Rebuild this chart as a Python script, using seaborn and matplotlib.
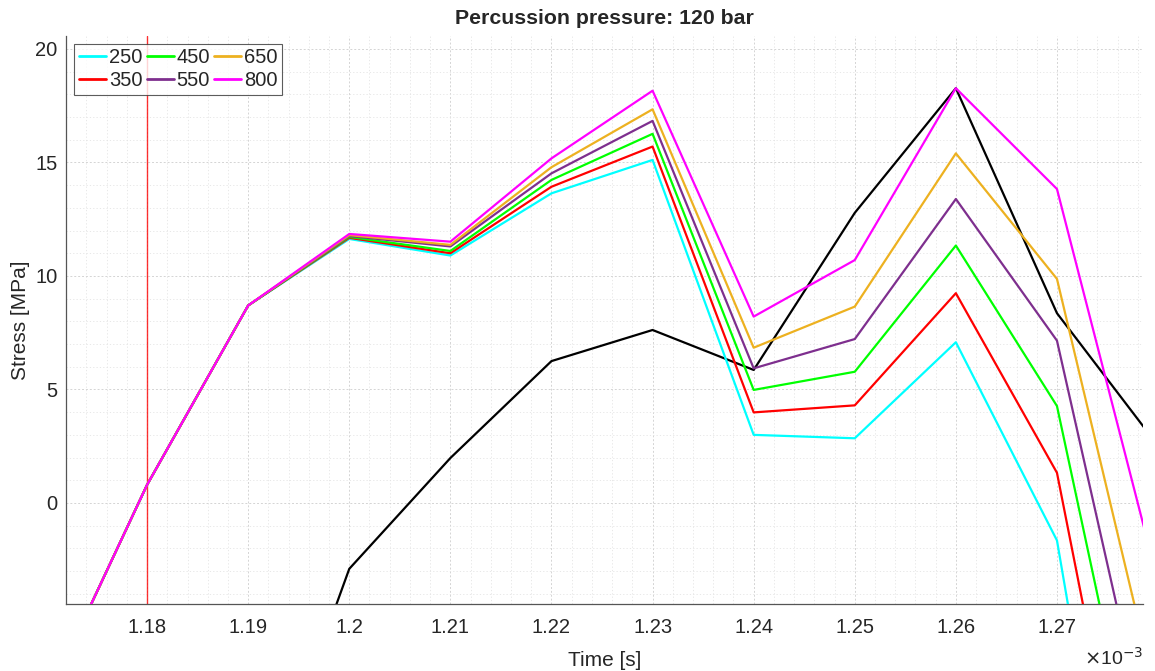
import numpy as np
import pandas as pd
import matplotlib
matplotlib.use("Agg")
import matplotlib.pyplot as plt
import seaborn as sns
from matplotlib.ticker import MultipleLocator, FuncFormatter

# ---- data (time in ms*1e-3 -> seconds) ----
time_ms = [1.17, 1.18, 1.19, 1.20, 1.21, 1.22, 1.23, 1.24, 1.25, 1.26, 1.27, 1.28]
s250 = [-8.7, 0.8, 8.7, 11.63, 10.9, 13.64, 15.11, 3.0, 2.85, 7.08, -1.65, -27.6]
s350 = [-8.7, 0.8, 8.7, 11.68, 11.0, 13.93, 15.70, 3.99, 4.30, 9.24, 1.33, -21.2]
s450 = [-8.7, 0.8, 8.7, 11.72, 11.1, 14.23, 16.26, 4.98, 5.78, 11.34, 4.27, -16.5]
s550 = [-8.7, 0.8, 8.7, 11.76, 11.3, 14.52, 16.83, 5.93, 7.22, 13.39, 7.15, -12.6]
s650 = [-8.7, 0.8, 8.7, 11.80, 11.37, 14.79, 17.34, 6.84, 8.65, 15.40, 9.87, -8.85]
s800 = [-8.7, 0.8, 8.7, 11.85, 11.51, 15.18, 18.16, 8.21, 10.70, 18.27, 13.83, -3.48]
black_ms = [1.19, 1.20, 1.21, 1.22, 1.23, 1.24, 1.25, 1.26, 1.27, 1.28]
black_vals = [-15.2, -2.9, 1.98, 6.25, 7.62, 5.86, 12.78, 18.27, 8.36, 2.52]
labels = ["250", "350", "450", "550", "650", "800"]
series = [s250, s350, s450, s550, s650, s800]
colors = ["#00FFFF", "#FF0000", "#00FF00", "#7E2F8E", "#EDB120", "#FF00FF"]
marker_line_ms = 1.18
xticks_ms = [1.18, 1.19, 1.20, 1.21, 1.22, 1.23, 1.24, 1.25, 1.26, 1.27]
yticks = [0, 5, 10, 15, 20]

rows = []
for lab, vals in zip(labels, series):
    for t, v in zip(time_ms, vals):
        rows.append({"Time": t * 1e-3, "Stress": v, "Load": lab})
df = pd.DataFrame(rows)
df_black = pd.DataFrame({"Time": np.array(black_ms) * 1e-3, "Stress": black_vals})

sns.set_style("white")
plt.rcParams["font.family"] = ["Liberation Sans", "DejaVu Sans"]

fig = plt.figure(figsize=(11.55, 6.71), dpi=100)
ax = fig.add_axes([66 / 1155, 1 - 604 / 671, (1143 - 66) / 1155, (604 - 36) / 671])

ax.axvline(marker_line_ms * 1e-3, color="#FF0000", lw=1.0, alpha=0.8, zorder=1)
sns.lineplot(data=df_black, x="Time", y="Stress", color="black", lw=1.6,
             estimator=None, sort=False, ax=ax, zorder=2)
sns.lineplot(data=df, x="Time", y="Stress", hue="Load", hue_order=labels,
             palette=dict(zip(labels, colors)), lw=1.6, estimator=None,
             sort=False, ax=ax, zorder=3)

ax.set_xlim(1.17198e-3, 1.27851e-3)
ax.set_ylim(-4.45, 20.57)
ax.set_xticks(np.array(xticks_ms) * 1e-3)
ax.xaxis.set_major_formatter(FuncFormatter(lambda v, p: f"{v*1e3:g}"))
ax.set_yticks(yticks)
ax.xaxis.set_minor_locator(MultipleLocator(0.002e-3))
ax.yaxis.set_minor_locator(MultipleLocator(1))

ax.grid(True, which="major", color="#d4d4d4", ls=(0, (2, 2)), lw=0.7)
ax.grid(True, which="minor", color="#e4e4e4", ls=(0, (1.5, 2.5)), lw=0.6)
ax.set_axisbelow(True)

for s in ["top", "right"]:
    ax.spines[s].set_visible(False)
for s in ["left", "bottom"]:
    ax.spines[s].set_color("#555555")
    ax.spines[s].set_linewidth(0.9)
ax.tick_params(axis="both", which="major", direction="in", length=5, color="#555555",
               labelsize=14.5, labelcolor="#262626")
ax.tick_params(axis="x", which="major", pad=10)
ax.tick_params(axis="y", which="major", pad=6)
ax.tick_params(axis="both", which="minor", length=0)

ax.set_xlabel("Time [s]", fontsize=15, color="#262626", labelpad=10)
ax.set_ylabel("Stress [MPa]", fontsize=15, color="#262626", labelpad=4)
ax.set_title("Percussion pressure: 120 bar", fontsize=15.3, fontweight="bold", pad=9)
ax.text(1.0, -0.075, r"$\times$10$^{-3}$", transform=ax.transAxes, ha="right", va="top",
        fontsize=14, color="#262626")

leg = ax.legend(ncol=3, loc="upper left", bbox_to_anchor=(0.004, 0.993), fontsize=14.5,
                frameon=True, fancybox=False, edgecolor="#333333", handlelength=1.35,
                handletextpad=0.15, columnspacing=0.2, labelspacing=0.2,
                borderpad=0.22, borderaxespad=0.2)
leg.get_frame().set_linewidth(0.8)
for h in leg.get_lines():
    h.set_linewidth(2.0)

fig.savefig("out.png", dpi=100)
